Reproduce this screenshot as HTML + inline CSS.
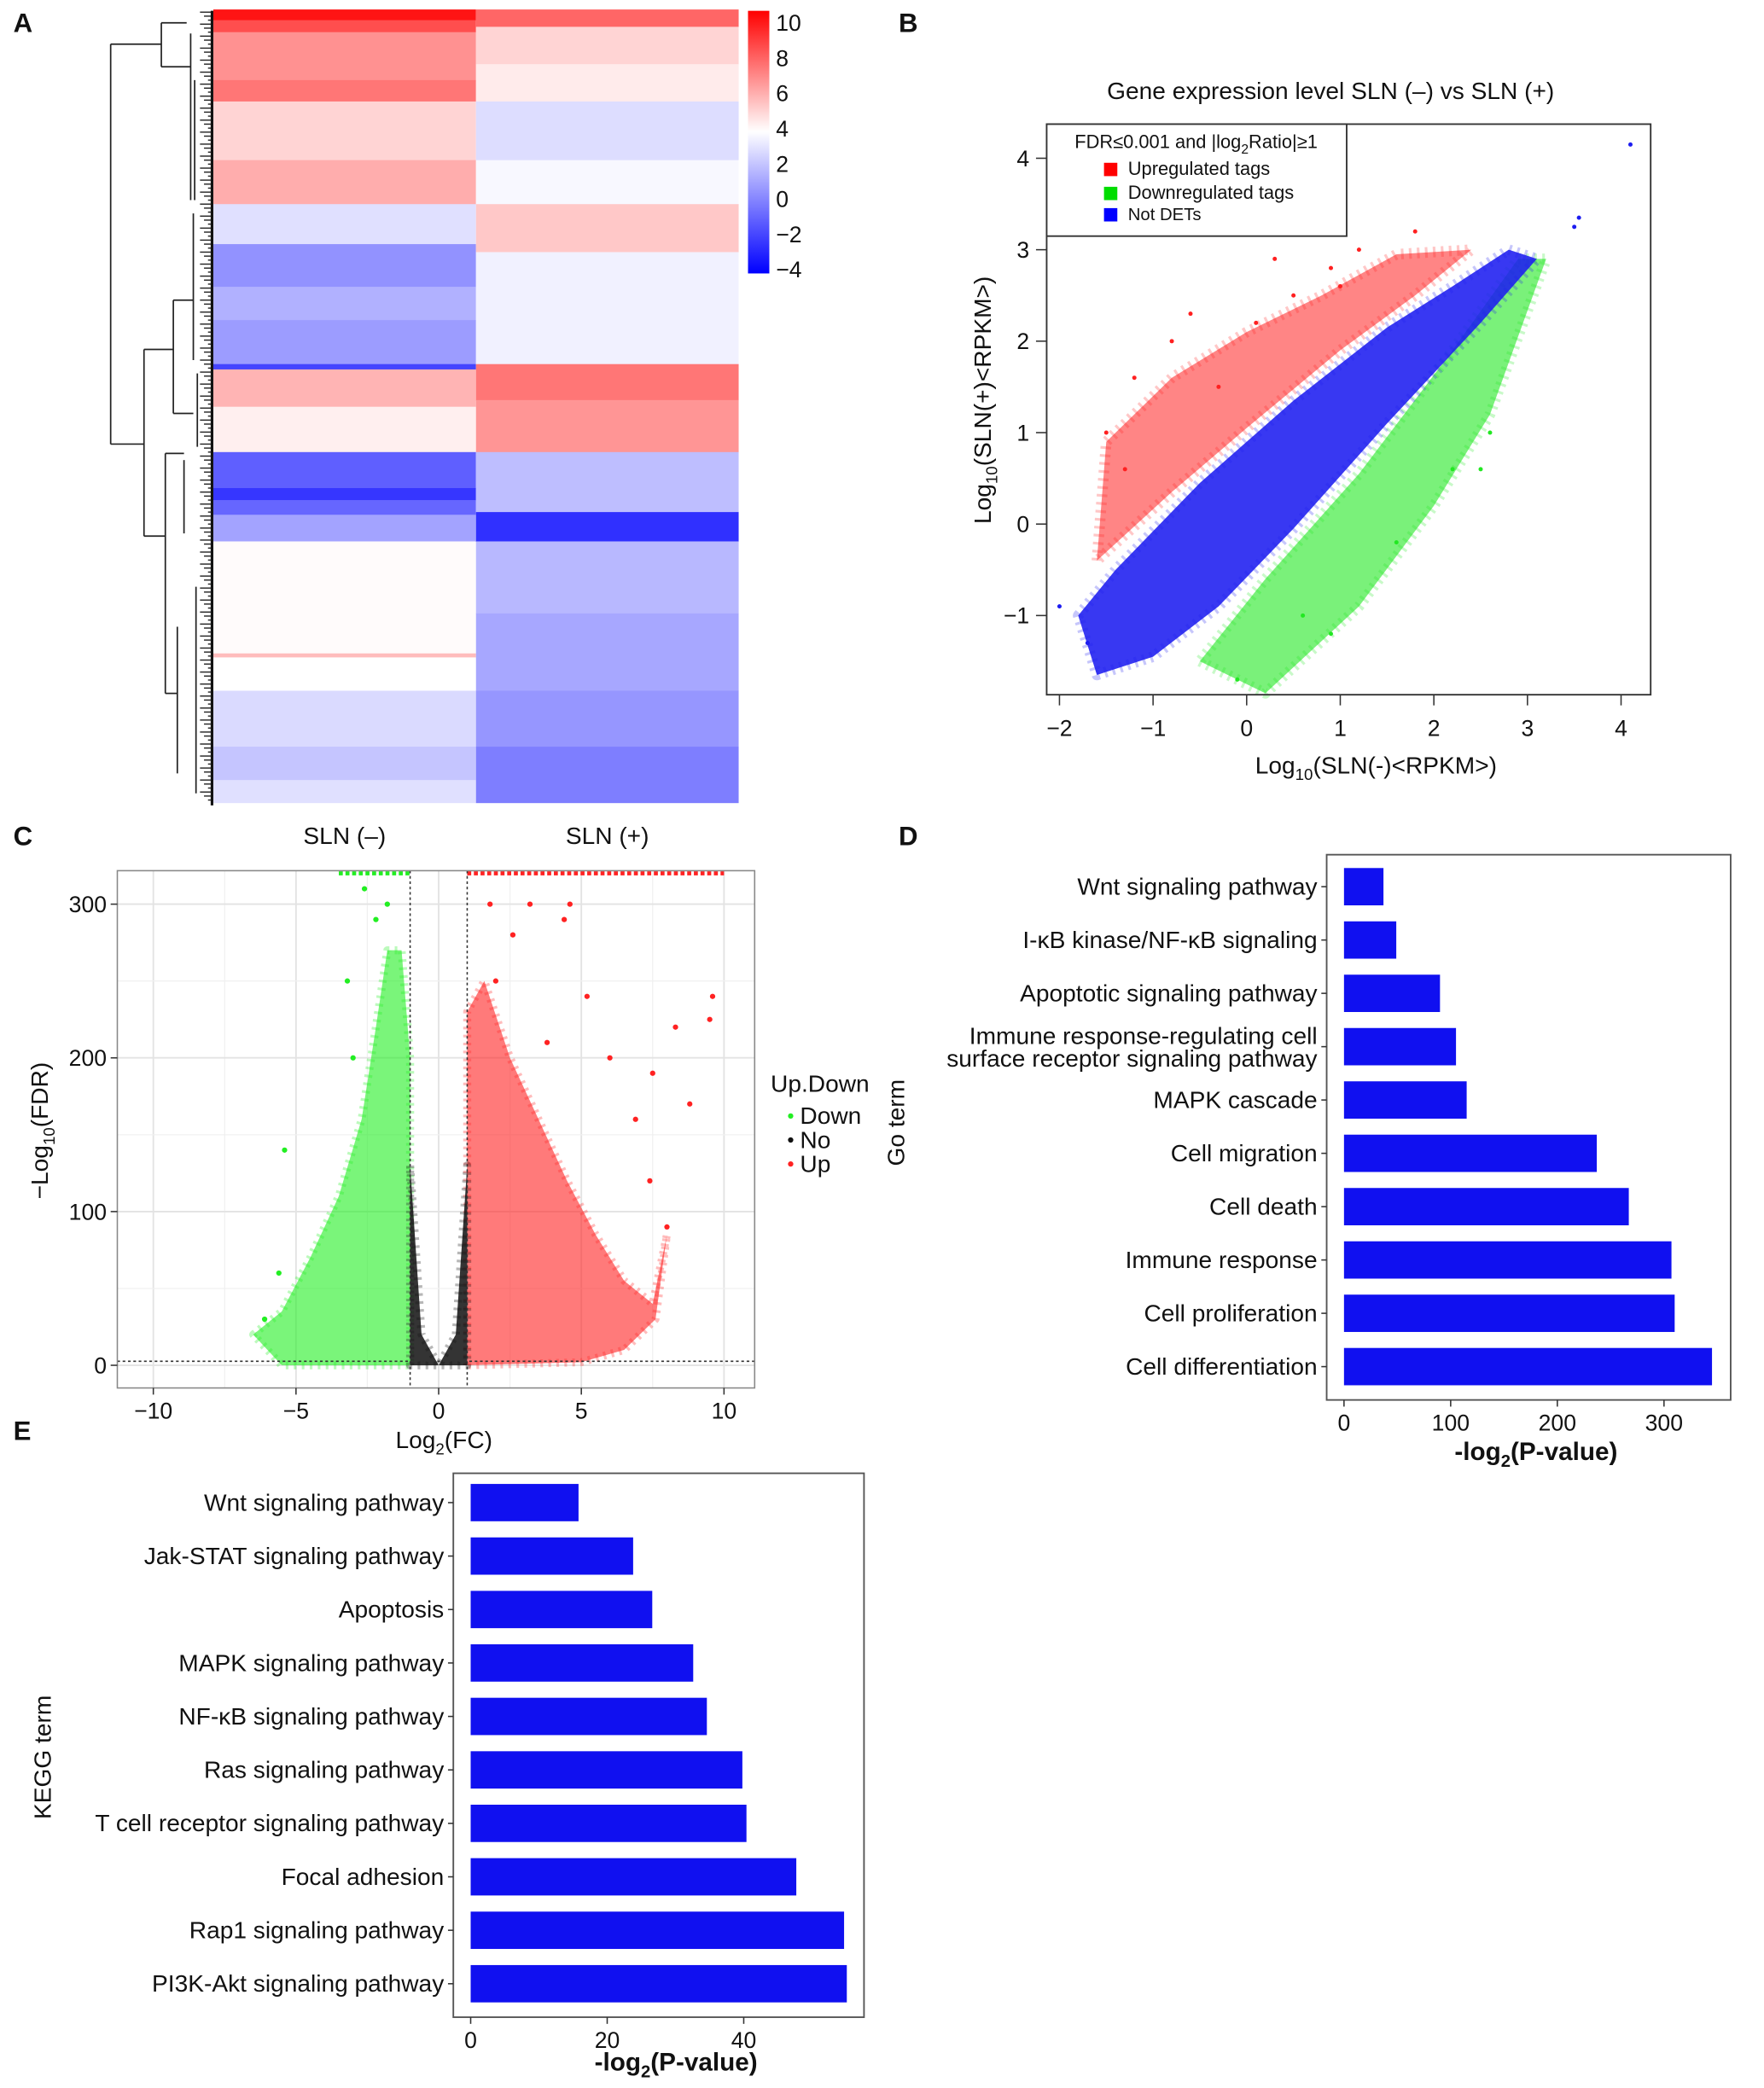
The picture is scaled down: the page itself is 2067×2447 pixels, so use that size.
<!DOCTYPE html>
<html><head><meta charset="utf-8"><style>
html,body{margin:0;padding:0;background:#fff}
svg{display:block}
text{font-family:"Liberation Sans",Arial,sans-serif;fill:#111}
</style></head><body>
<svg id="fig" width="2067" height="2447" viewBox="0 0 1323 1566" xmlns="http://www.w3.org/2000/svg">
<rect width="1323" height="1566" fill="#fff"/>
<g id="A"></g>
<g id="B"></g>
<g id="C"></g>
<g id="D"></g>
<g id="E"></g>
</svg>
<script>
// ===== Panel A data: heatmap row blocks [startY, endY, value]
const hmCol1 = [[7,15,9.5],[15,24,8],[24,60,6.3],[60,76,7],[76,120,4.6],[120,153,5.6],[153,183,2.6],[183,215,0.3],[215,240,1.2],[240,273,0.6],[273,277,-2],[277,305,5.4],[305,339,3.9],[339,366,-1.2],[366,375,-2.4],[375,386,-1],[386,406,0.8],[406,490,3.6],[490,493,5.2],[493,518,3.5],[518,560,2.4],[560,585,1.8],[585,602,2.6]];
const hmCol2 = [[7,20,7.4],[20,48,4.6],[48,76,4],[76,120,2.5],[120,153,3.3],[153,189,4.9],[189,273,3.1],[273,300,7],[300,339,6.2],[339,384,1.6],[384,406,-2.6],[406,460,1.4],[460,518,0.9],[518,560,0.4],[560,602,-0.3]];
const hmCols = ["SLN (–)","SLN (+)"];
const cbTicks = [10,8,6,4,2,0,-2,-4];
// ===== Panel B data
const bXTicks=[-2,-1,0,1,2,3,4], bYTicks=[-1,0,1,2,3,4];
const bBlue=[[-1.8,-1.0],[-1.4,-0.5],[-0.5,0.45],[0.5,1.35],[1.5,2.15],[2.2,2.6],[2.8,3.0],[3.1,2.9],[2.5,2.2],[1.5,1.1],[0.5,-0.05],[-0.3,-0.9],[-1.0,-1.45],[-1.6,-1.65]];
const bRed=[[-1.6,-0.4],[-1.5,0.9],[-0.8,1.6],[0,2.1],[0.8,2.5],[1.6,2.95],[2.4,3.0],[1.8,2.5],[1.0,1.9],[0,1.05],[-0.8,0.35]];
const bGreen=[[-0.5,-1.5],[0.2,-1.85],[1.2,-0.9],[2.0,0.2],[2.6,1.2],[3.2,2.9],[2.9,2.9],[2.2,1.9],[1.2,0.55],[0.2,-0.6]];
const bRedPts=[[-1.5,1.0],[-1.2,1.6],[-0.8,2.0],[0.3,2.9],[0.1,2.2],[1.0,2.6],[1.2,3.0],[0.9,2.8],[-0.3,1.5],[-1.3,0.6],[1.8,3.2],[-0.6,2.3],[0.5,2.5]];
const bGreenPts=[[2.6,1.0],[2.2,0.6],[1.6,-0.2],[0.9,-1.2],[-0.1,-1.7],[0.6,-1.0],[2.5,0.6]];
const bBluePts=[[4.1,4.15],[3.5,3.25],[3.55,3.35],[-2.0,-0.9],[-1.7,-1.3]];
// ===== Panel C data
const cXTicks=[-10,-5,0,5,10], cYTicks=[0,100,200,300];
const cGreen=[[-6.5,20],[-5.5,35],[-4.5,70],[-3.5,110],[-2.7,160],[-2.2,220],[-1.8,270],[-1.3,270],[-1,200],[-1,0],[-5.5,0]];
const cRed=[[1,0],[1,230],[1.6,250],[2.5,200],[3.5,160],[4.5,120],[5.5,85],[6.5,55],[7.5,40],[8,85],[7.6,30],[6.5,10],[5,2]];
const cBlack=[[-1,0],[-1,130],[-0.6,20],[0,0],[0.6,20],[1,130],[1,0]];
const cRedPts=[[9.6,240],[9.5,225],[8.3,220],[8.8,170],[7.5,190],[6.0,200],[4.6,300],[4.4,290],[3.2,300],[6.9,160],[7.4,120],[8.0,90],[2.0,250],[5.2,240],[1.8,300],[2.6,280],[3.8,210]];
const cGreenPts=[[-5.4,140],[-5.6,60],[-3.2,250],[-1.8,300],[-2.6,310],[-6.1,30],[-2.2,290],[-3.0,200]];
// ===== Panel D data
const dCats=["Wnt signaling pathway","I-κB kinase/NF-κB signaling","Apoptotic signaling pathway","Immune response-regulating cell|surface receptor signaling pathway","MAPK cascade","Cell migration","Cell death","Immune response","Cell proliferation","Cell differentiation"];
const dVals=[37,49,90,105,115,237,267,307,310,345];
const dTicks=[0,100,200,300];
// ===== Panel E data
const eCats=["Wnt signaling pathway","Jak-STAT signaling pathway","Apoptosis","MAPK signaling pathway","NF-κB signaling pathway","Ras signaling pathway","T cell receptor signaling pathway","Focal adhesion","Rap1 signaling pathway","PI3K-Akt signaling pathway"];
const eVals=[15.8,23.8,26.6,32.6,34.6,39.8,40.4,47.7,54.7,55.1];
const eTicks=[0,20,40];

const NS="http://www.w3.org/2000/svg";
function mk(parent,tag,attrs,txt){const e=document.createElementNS(NS,tag);for(const k in attrs)e.setAttribute(k,attrs[k]);if(txt!==undefined)e.textContent=txt;parent.appendChild(e);return e;}
function T(parent,x,y,s,size,anchor,extra){const e=mk(parent,"text",Object.assign({x:x,y:y,"font-size":size||17,"text-anchor":anchor||"start"},extra||{}),s);return e;}

// ---------- Panel A ----------
(function(){
const g=document.getElementById("A");
const L=T(g,10,24,"A",20,"start",{"font-weight":"bold"});

function col(v){let r,gg,b;if(v<3.5){const t=Math.max(0,Math.min(1,(v+4)/7.5));r=Math.round(255*t);gg=r;b=255;}else{const t=Math.max(0,Math.min(1,(v-3.5)/6.5));r=255;gg=Math.round(255*(1-t));b=gg;}return `rgb(${r},${gg},${b})`;}
const x0=160,cw=197;
[hmCol1,hmCol2].forEach((arr,ci)=>{arr.forEach(s=>{
 const r=mk(g,"rect",{x:x0+ci*cw,y:s[0],width:cw,height:s[1]-s[0]+0.3,fill:col(s[2])});
 });});
hmCols.forEach((c,i)=>{const t=T(g,x0+cw*i+cw/2,633,c,18,"middle");});
const defs=mk(g,"defs",{});const lg=mk(defs,"linearGradient",{id:"cbg",x1:0,y1:0,x2:0,y2:1});
[[0,"#ff0000"],[0.46,"#ffffff"],[1,"#0000ff"]].forEach(s=>mk(lg,"stop",{offset:s[0],"stop-color":s[1]}));
const cb=mk(g,"rect",{x:561,y:8,width:16,height:197,fill:"url(#cbg)"});
cbTicks.forEach(v=>{const y=17+(10-v)/14*185;const t=T(g,582,y+6,String(v).replace("-","−"),17);});
const dg=mk(g,"g",{stroke:"#222","stroke-width":1.1,fill:"none"});
const lines=[[83,33,83,333],[83,33,121,33],[83,333,108,333],[121,17,121,50],[121,17,140,17],[121,50,143,50],[143,25,143,150],[108,262,108,402],[108,262,130,262],[108,402,124,402],[130,225,130,310],[130,225,145,225],[130,310,145,310],[124,340,124,520],[124,340,138,340],[124,520,133,520],[133,470,133,580],[145,160,145,270],[138,345,138,400],[146,60,146,150],[148,280,148,335],[147,440,147,595]];
lines.forEach(l=>mk(dg,"line",{x1:l[0],y1:l[1],x2:l[2],y2:l[3]}));
for(let y=9;y<603;y+=3){mk(dg,"line",{x1:150+((y*7)%9),y1:y,x2:160,y2:y,"stroke-width":0.9});}
mk(g,"line",{x1:159,y1:8,x2:159,y2:604,stroke:"#111","stroke-width":2});
})();

// ---------- Panel B ----------
(function(){
const g=document.getElementById("B");
const L=T(g,674,24,"B",20,"start",{"font-weight":"bold"});
const X=v=>935+v*70.2, Y=v=>393-v*68.6;
const ti=T(g,998,74,"Gene expression level SLN (–) vs SLN (+)",18,"middle");
const pts=a=>a.map(p=>X(p[0])+","+Y(p[1])).join(" ");
[[bRed,"#ff2020","red-cloud",0.55],[bGreen,"#22e822","green-cloud",0.6],[bBlue,"#1c1cf0","blue-cloud",0.88]].forEach(c=>{
 const p=mk(g,"polygon",{points:pts(c[0]),fill:c[1],"fill-opacity":c[3],stroke:c[1],"stroke-width":8,"stroke-opacity":0.25,"stroke-dasharray":"2 4","stroke-linejoin":"round"});
 });
[[bRedPts,"#ff2020"],[bGreenPts,"#22e822"],[bBluePts,"#1c1cf0"]].forEach(c=>c[0].forEach(p=>{const d=mk(g,"circle",{cx:X(p[0]),cy:Y(p[1]),r:1.6,fill:c[1]});}));
const box=mk(g,"rect",{x:785,y:93,width:453,height:428,fill:"none",stroke:"#333","stroke-width":1.2});
bXTicks.forEach(v=>{mk(g,"line",{x1:X(v),x2:X(v),y1:521,y2:529,stroke:"#333"});const t=T(g,X(v),552,String(v).replace("-","−"),17,"middle");});
bYTicks.forEach(v=>{mk(g,"line",{x1:777,x2:785,y1:Y(v),y2:Y(v),stroke:"#333"});const t=T(g,772,Y(v)+6,String(v).replace("-","−"),17,"end");});
const xl=T(g,1032,580,"",18,"middle");xl.innerHTML='Log<tspan font-size="12" dy="5">10</tspan><tspan dy="-5">(SLN(-)&lt;RPKM&gt;)</tspan>';
const yl=T(g,0,0,"",18,"middle",{transform:"translate(743,300) rotate(-90)"});yl.innerHTML='Log<tspan font-size="12" dy="5">10</tspan><tspan dy="-5">(SLN(+)&lt;RPKM&gt;)</tspan>';
const lgd=mk(g,"g",{});
mk(lgd,"rect",{x:785,y:93,width:225,height:84,fill:"#fff",stroke:"#333","stroke-width":1.2});
const lt=T(lgd,806,111,"",14);lt.innerHTML='FDR≤0.001 and |log<tspan font-size="10" dy="4">2</tspan><tspan dy="-4">Ratio|≥1</tspan>';
[["Upregulated tags","#ff0000",131],["Downregulated tags","#00dd00",149],["Not DETs","#0000ff",165]].forEach(e=>{mk(lgd,"rect",{x:828,y:e[2]-9,width:10,height:10,fill:e[1]});const t=T(lgd,846,e[2],e[0],e[0]=="Not DETs"?13:14);});
})();

// ---------- Panel C ----------
(function(){
const g=document.getElementById("C");
const L=T(g,10,634,"C",20,"start",{"font-weight":"bold"});
const X=v=>329+v*21.4, Y=v=>1024-v*1.153;
for(let v=-12.5;v<=12.5;v+=2.5){const x=X(v);if(x>88&&x<566)mk(g,"line",{x1:x,x2:x,y1:653,y2:1041,stroke:v%5==0?"#e3e3e3":"#f0f0f0","stroke-width":v%5==0?1.2:0.8});}
for(let v=-50;v<=350;v+=50){const y=Y(v);if(y>653&&y<1041)mk(g,"line",{x1:88,x2:566,y1:y,y2:y,stroke:v%100==0?"#e3e3e3":"#f0f0f0","stroke-width":v%100==0?1.2:0.8});}
const pts=a=>a.map(p=>X(p[0])+","+Y(p[1])).join(" ");
[[cGreen,"#22ee22","down-cloud",0.6],[cRed,"#ff2222","up-cloud",0.6],[cBlack,"#111","no-cloud",0.85]].forEach(c=>{
 const p=mk(g,"polygon",{points:pts(c[0]),fill:c[1],"fill-opacity":c[3],stroke:c[1],"stroke-width":6,"stroke-opacity":0.3,"stroke-dasharray":"2 4","stroke-linejoin":"round"});
 });
[[cRedPts,"#ff2222"],[cGreenPts,"#22ee22"]].forEach(c=>c[0].forEach(p=>{const d=mk(g,"circle",{cx:X(p[0]),cy:Y(p[1]),r:2,fill:c[1]});}));
mk(g,"line",{x1:X(-3.5),x2:X(-1),y1:655,y2:655,stroke:"#22ee22","stroke-width":3,"stroke-dasharray":"3 2"});
mk(g,"line",{x1:X(1),x2:X(10),y1:655,y2:655,stroke:"#ff2222","stroke-width":3,"stroke-dasharray":"3 2"});
[X(-1),X(1)].forEach(x=>mk(g,"line",{x1:x,x2:x,y1:653,y2:1041,stroke:"#333","stroke-dasharray":"2 2"}));
mk(g,"line",{x1:88,x2:566,y1:1021,y2:1021,stroke:"#333","stroke-dasharray":"2 2"});
const box=mk(g,"rect",{x:88,y:653,width:478,height:388,fill:"none",stroke:"#888","stroke-width":1});
cXTicks.forEach(v=>{mk(g,"line",{x1:X(v),x2:X(v),y1:1041,y2:1046,stroke:"#333"});const t=T(g,X(v),1064,String(v).replace("-","−"),17,"middle");});
cYTicks.forEach(v=>{mk(g,"line",{x1:83,x2:88,y1:Y(v),y2:Y(v),stroke:"#333"});const t=T(g,80,Y(v)+6,String(v),17,"end");});
const xl=T(g,333,1086,"",18,"middle");xl.innerHTML='Log<tspan font-size="12" dy="5">2</tspan><tspan dy="-5">(FC)</tspan>';
const yl=T(g,0,0,"",18,"middle",{transform:"translate(36,848) rotate(-90)"});yl.innerHTML='−Log<tspan font-size="12" dy="5">10</tspan><tspan dy="-5">(FDR)</tspan>';
const lg=mk(g,"g",{});
T(lg,578,819,"Up.Down",18);
[["Down","#22ee22",843],["No","#111",861],["Up","#ff2222",879]].forEach(e=>{mk(lg,"circle",{cx:593,cy:e[2]-6,r:2,fill:e[1]});const t=T(lg,600,e[2],e[0],18);});
})();

// ---------- Bar chart helper ----------
function bars(g,cats,vals,ticks,o){
 const X=v=>o.x0+v*o.k;
 const box=mk(g,"rect",{x:o.bx,y:o.by,width:o.bw,height:o.bh,fill:"none",stroke:"#555","stroke-width":1.2});
 cats.forEach((c,i)=>{const cy=o.c0+i*o.step;
  const r=mk(g,"rect",{x:X(0),y:cy-o.bhh/2,width:X(vals[i])-X(0),height:o.bhh,fill:"#1010f0"});
  
  mk(g,"line",{x1:o.bx-4,x2:o.bx,y1:cy,y2:cy,stroke:"#333"});
  const parts=c.split("|");
  if(parts.length==1){const t=T(g,o.bx-7,cy+6,c,18,"end");}
  else{const t=T(g,o.bx-7,cy-2,parts[0],18,"end");const t2=T(g,o.bx-7,cy+15,parts[1],18,"end");}
 });
 ticks.forEach(v=>{mk(g,"line",{x1:X(v),x2:X(v),y1:o.by+o.bh,y2:o.by+o.bh+5,stroke:"#333"});const t=T(g,X(v),o.by+o.bh+23,String(v),17,"middle");});
 const xl=T(g,o.xlx,o.xly,"",19,"middle",{"font-weight":"bold"});xl.innerHTML='-log<tspan font-size="13" dy="5">2</tspan><tspan dy="-5">(P-value)</tspan>';
 const yl=T(g,0,0,o.ylab,18,"middle",{transform:`translate(${o.ylx},${o.yly}) rotate(-90)`});
}
(function(){const g=document.getElementById("D");
const L=T(g,674,634,"D",20,"start",{"font-weight":"bold"});
bars(g,dCats,dVals,dTicks,{x0:1008,k:0.8,bx:995,by:641,bw:303,bh:409,c0:665,step:40,bhh:28,xlx:1152,xly:1095,ylab:"Go term",ylx:678,yly:842});})();
(function(){const g=document.getElementById("E");
const L=T(g,10,1080,"E",20,"start",{"font-weight":"bold"});
bars(g,eCats,eVals,eTicks,{x0:353,k:5.12,bx:340,by:1105,bw:308,bh:408,c0:1127,step:40.1,bhh:28,xlx:507,xly:1553,ylab:"KEGG term",ylx:38,yly:1318});})();
</script>
</body></html>
